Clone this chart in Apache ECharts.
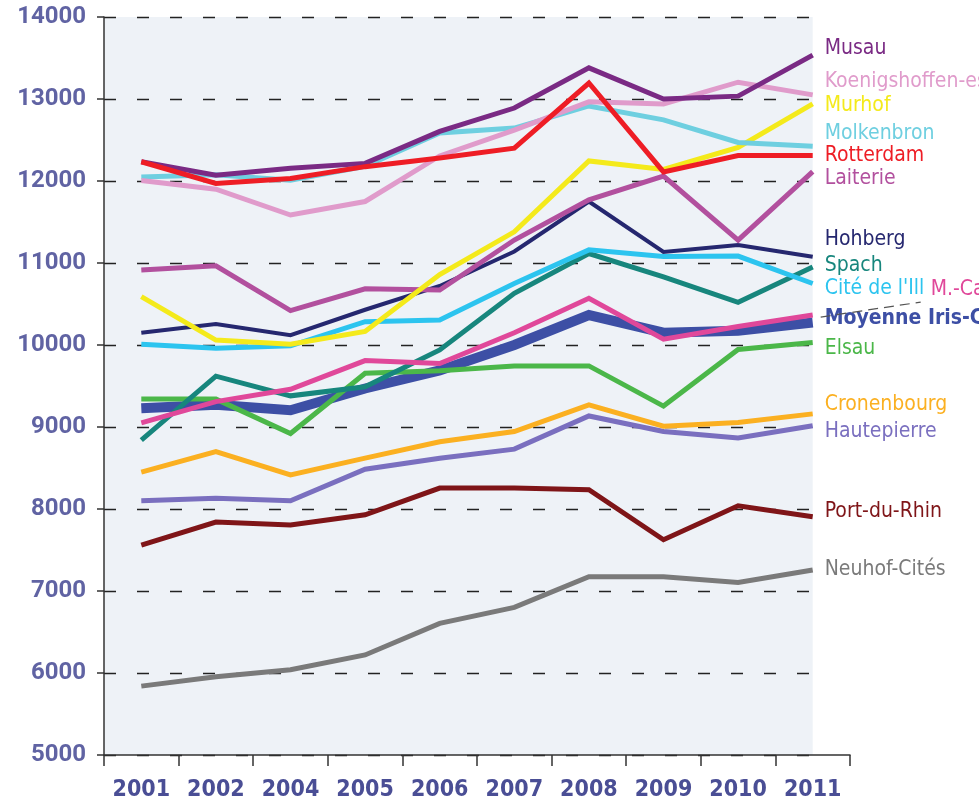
<!DOCTYPE html>
<html>
<head>
<meta charset="utf-8">
<script src="https://cdn.jsdelivr.net/npm/echarts@6/dist/echarts.min.js"></script>
<style>
  html, body { margin: 0; padding: 0; background: #ffffff; }
  #chart { width: 979px; height: 803px; }
</style>
</head>
<body>
<div id="chart"></div>
<script>
// Years on the horizontal axis (2003 is not surveyed)
const years = ['2001', '2002', '2004', '2005', '2006', '2007', '2008', '2009', '2010', '2011'];

// Values per district
const neuhofCites    = [5840, 5955, 6040, 6220, 6605, 6800, 7175, 7175, 7105, 7255];
const portDuRhin     = [7560, 7840, 7805, 7930, 8255, 8255, 8235, 7625, 8040, 7905];
const hautepierre    = [8100, 8130, 8100, 8485, 8620, 8730, 9135, 8945, 8865, 9015];
const cronenbourg    = [8450, 8700, 8415, 8620, 8820, 8945, 9270, 9010, 9055, 9160];
const moyenneIris    = [9230, 9270, 9205, 9470, 9690, 10000, 10365, 10150, 10175, 10275];
const elsau          = [9340, 9340, 8920, 9655, 9685, 9745, 9745, 9255, 9945, 10030];
const spach          = [8840, 9620, 9380, 9490, 9940, 10630, 11115, 10830, 10520, 10950];
const mCanardiere    = [9050, 9310, 9460, 9810, 9775, 10150, 10570, 10070, 10225, 10365];
const citeDeLIll     = [10010, 9960, 9990, 10285, 10305, 10750, 11160, 11080, 11085, 10750];
const hohberg        = [10150, 10255, 10120, 10430, 10720, 11140, 11750, 11135, 11220, 11075];
const laiterie       = [10915, 10965, 10420, 10685, 10670, 11280, 11770, 12060, 11280, 12115];
const murhof         = [10590, 10060, 10010, 10165, 10860, 11380, 12245, 12140, 12410, 12940];
const molkenbron     = [12050, 12075, 12010, 12180, 12585, 12645, 12915, 12745, 12470, 12425];
const koenigshoffen  = [12005, 11900, 11585, 11750, 12305, 12620, 12965, 12940, 13205, 13050];
const musau          = [12235, 12070, 12155, 12215, 12605, 12890, 13380, 13000, 13035, 13535];
const rotterdam      = [12235, 11970, 12030, 12175, 12280, 12400, 13195, 12110, 12310, 12310];

// Value axis ticks
const yTicks = [5000, 6000, 7000, 8000, 9000, 10000, 11000, 12000, 13000, 14000];

// Drawing order (last on top): name, data, colour, line width, end label shift [dx, dy]
const lines = [
  { name: 'Neuhof-Cités',       data: neuhofCites,   color: '#7a7a7a', width: 5,  shift: [0, -1] },
  { name: 'Port-du-Rhin',       data: portDuRhin,    color: '#7f1518', width: 5,  shift: [0, -5] },
  { name: 'Hautepierre',        data: hautepierre,   color: '#7a6fbf', width: 5,  shift: [0, 6] },
  { name: 'Cronenbourg',        data: cronenbourg,   color: '#fbb021', width: 5,  shift: [0, -9] },
  { name: 'Moyenne Iris-CUS',   data: moyenneIris,   color: '#3d4fa5', width: 10, shift: [0, -4], bold: true },
  { name: 'Elsau',              data: elsau,         color: '#4bb749', width: 5,  shift: [0, 6] },
  { name: 'Spach',              data: spach,         color: '#17867d', width: 5,  shift: [0, -2] },
  { name: 'M.-Canardière',      data: mCanardiere,   color: '#e0489a', width: 5,  shift: [106, -26] },
  { name: "Cité de l'Ill",      data: citeDeLIll,    color: '#2cc4ef', width: 5,  shift: [0, 5] },
  { name: 'Hohberg',            data: hohberg,       color: '#25276f', width: 4,  shift: [0, -17] },
  { name: 'Laiterie',           data: laiterie,      color: '#b2509e', width: 5,  shift: [0, 7] },
  { name: 'Murhof',             data: murhof,        color: '#f4ea1b', width: 5,  shift: [0, 2] },
  { name: 'Molkenbron',         data: molkenbron,    color: '#6ecfe0', width: 5,  shift: [0, -13] },
  { name: 'Koenigshoffen-est',  data: koenigshoffen, color: '#e09bcb', width: 5,  shift: [0, -13] },
  { name: 'Musau',              data: musau,         color: '#7a2a84', width: 5,  shift: [0, -7] },
  { name: 'Rotterdam',          data: rotterdam,     color: '#ee1d25', width: 5,  shift: [0, 0] }
];

const labelFont = '"Liberation Sans Narrow", "DejaVu Sans Condensed", "Noto Sans", sans-serif';
const yMin = yTicks[0];
const yMax = yTicks[yTicks.length - 1];

const chart = echarts.init(document.getElementById('chart'), null, { renderer: 'canvas' });

const option = {
  animation: false,
  backgroundColor: '#ffffff',
  grid: [
    // main grid: axes and lines
    { left: 104, right: 129, top: 17, bottom: 48, containLabel: false },
    // panel grid: dashed gridlines stop at the last year
    { left: 104, right: 166, top: 17, bottom: 48, containLabel: false }
  ],
  xAxis: [
    {
      type: 'category',
      gridIndex: 0,
      data: years,
      boundaryGap: true,
      axisLine: { show: true, lineStyle: { color: '#333333', width: 1.5 } },
      axisTick: { show: true, interval: 0, length: 11, lineStyle: { color: '#333333', width: 1.5 } },
      axisLabel: {
        interval: 0,
        hideOverlap: false,
        margin: 24,
        color: '#4a4e95',
        fontFamily: labelFont,
        fontWeight: 'bold',
        fontSize: 23
      },
      splitLine: { show: false }
    },
    {
      type: 'value',
      gridIndex: 1,
      show: false,
      min: 0,
      max: 1
    }
  ],
  yAxis: [
    {
      type: 'value',
      gridIndex: 0,
      min: yMin,
      max: yMax,
      interval: 1000,
      z: 5,
      axisLine: { show: true, lineStyle: { color: '#333333', width: 1.5 } },
      axisTick: { show: true, length: 7, lineStyle: { color: '#333333', width: 1.5 } },
      axisLabel: {
        margin: 18,
        color: '#6063a3',
        fontFamily: 'Roboto, "Noto Sans", sans-serif',
        fontWeight: 'bold',
        fontSize: 24,
        formatter: function (v) { return String(v); }
      },
      splitLine: { show: false }
    },
    {
      type: 'value',
      gridIndex: 1,
      min: yMin,
      max: yMax,
      interval: 1000,
      axisLine: { show: false },
      axisTick: { show: false },
      axisLabel: { show: false },
      splitLine: {
        show: true,
        lineStyle: { color: '#222222', width: 1.3, type: [12, 21] }
      }
    }
  ],
  series: lines.map(function (s, i) {
    return {
      name: s.name,
      type: 'line',
      xAxisIndex: 0,
      yAxisIndex: 0,
      data: s.data,
      z: 3 + i,
      symbol: 'none',
      smooth: false,
      lineStyle: { color: s.color, width: s.width, cap: 'butt', join: 'miter' },
      itemStyle: { color: s.color },
      endLabel: {
        show: true,
        formatter: '{a}',
        distance: 12,
        offset: s.shift,
        color: s.color,
        fontFamily: labelFont,
        fontWeight: s.bold ? 'bold' : 'normal',
        fontSize: 21
      },
      emphasis: { disabled: true }
    };
  })
};

chart.setOption(option);

// Shaded plot panel from the value axis to the last year, plus the
// dashed leader that ties the M.-Canardière line to its label.
function drawDecor() {
  const c0 = chart.convertToPixel({ xAxisIndex: 0 }, years[0]);
  const c1 = chart.convertToPixel({ xAxisIndex: 0 }, years[1]);
  const x0 = c0 - (c1 - c0) / 2;
  const x1 = chart.convertToPixel({ xAxisIndex: 0 }, years[years.length - 1]);
  const yTop = chart.convertToPixel({ yAxisIndex: 0 }, yMax);
  const yBot = chart.convertToPixel({ yAxisIndex: 0 }, yMin);
  const last = mCanardiere[mCanardiere.length - 1];
  const endY = chart.convertToPixel({ yAxisIndex: 0 }, last);
  chart.setOption({
    graphic: [
      {
        type: 'rect',
        z: -10,
        silent: true,
        shape: { x: x0, y: yTop, width: x1 - x0, height: yBot - yTop },
        style: { fill: '#eef2f7' }
      },
      {
        type: 'line',
        z: 50,
        silent: true,
        shape: { x1: x1 + 8, y1: endY + 2, x2: x1 + 108, y2: endY - 13 },
        style: { stroke: '#555555', lineWidth: 1.2, lineDash: [10, 6] }
      }
    ]
  });
}
drawDecor();
</script>
</body>
</html>
